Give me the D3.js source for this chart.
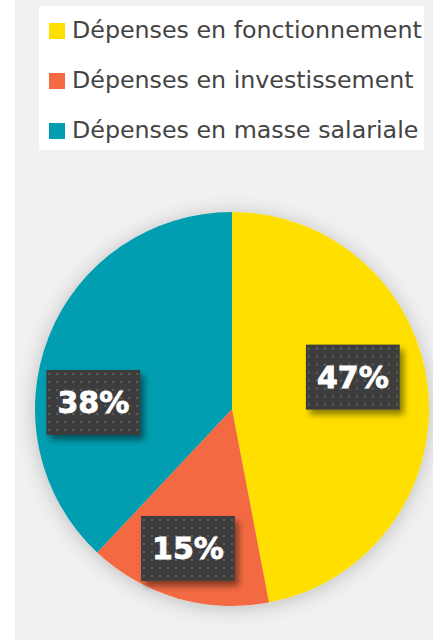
<!DOCTYPE html>
<html>
<head>
<meta charset="utf-8">
<script src="https://cdn.jsdelivr.net/npm/d3@7"></script>
<style>
  body { margin: 0; background: #fff; }
  svg { display: block; }
</style>
</head>
<body>
<div id="chart"></div>
<script>
// data
const categories = ['Dépenses en fonctionnement', 'Dépenses en investissement', 'Dépenses en masse salariale'];
const shares = [47, 15, 38];
const sliceColors = ['#FFDF00', '#F36A43', '#009EB0'];

// label placement tweaks (degrees / fraction of radius)
const labelAngleNudge = [-9.6, 1.4, -18.7];
const labelRadiusK = [0.635, 0.74, 0.705];

const width = 433;
const height = 640;
const cx = 232, cy = 409, radius = 197;

const svg = d3.select('#chart')
  .append('svg')
  .attr('width', width)
  .attr('height', height);

const defs = svg.append('defs');

// soft shadow behind the pie
const pieShadow = defs.append('filter')
  .attr('id', 'pieShadow')
  .attr('x', '-30%').attr('y', '-30%')
  .attr('width', '160%').attr('height', '160%');
pieShadow.append('feDropShadow')
  .attr('dx', 0).attr('dy', 2)
  .attr('stdDeviation', 10)
  .attr('flood-color', '#000')
  .attr('flood-opacity', 0.22);

// harder shadow for the label boxes
const boxShadow = defs.append('filter')
  .attr('id', 'boxShadow')
  .attr('x', '-20%').attr('y', '-20%')
  .attr('width', '150%').attr('height', '160%');
boxShadow.append('feDropShadow')
  .attr('dx', 4).attr('dy', 5)
  .attr('stdDeviation', 3)
  .attr('flood-color', '#000')
  .attr('flood-opacity', 0.45);

// dotted texture of the label boxes
const dots = defs.append('pattern')
  .attr('id', 'dots')
  .attr('patternUnits', 'userSpaceOnUse')
  .attr('width', 8).attr('height', 8);
dots.append('rect').attr('width', 8).attr('height', 8).attr('fill', '#3e3e3e');
dots.append('rect').attr('x', 3).attr('y', 3).attr('width', 2).attr('height', 2).attr('fill', '#5e5e5e');

// gray panel
svg.append('rect')
  .attr('x', 15).attr('y', 0)
  .attr('width', width - 15).attr('height', height)
  .attr('fill', '#f1f1f1');

// legend
const legend = svg.append('g');
legend.append('rect')
  .attr('x', 39).attr('y', 6)
  .attr('width', 385).attr('height', 144)
  .attr('fill', '#fff');

const legendY = d3.scalePoint()
  .domain(categories)
  .range([31, 131]);

const item = legend.selectAll('.item')
  .data(categories)
  .join('g')
  .attr('class', 'item')
  .attr('transform', d => `translate(49, ${legendY(d)})`);

item.append('rect')
  .attr('y', -8)
  .attr('width', 16).attr('height', 16)
  .attr('fill', (d, i) => sliceColors[i]);

const legendText = item.append('text')
  .attr('x', 23)
  .attr('y', 7)
  .attr('font-family', 'DejaVu Sans, sans-serif')
  .attr('font-size', 20)
  .attr('fill', '#444')
  .text(d => d);

// size the legend font so the longest entry fills the box like the original
const longest = d3.max(legendText.nodes(), n => n.getComputedTextLength());
legendText.attr('font-size', 20 * 350 / longest);

// pie
const pie = d3.pie().sort(null).value(d => d);
const arcs = pie(shares);
const arc = d3.arc().innerRadius(0).outerRadius(radius);

const g = svg.append('g')
  .attr('transform', `translate(${cx}, ${cy})`);

g.append('g')
  .attr('filter', 'url(#pieShadow)')
  .selectAll('path')
  .data(arcs)
  .join('path')
  .attr('d', arc)
  .attr('fill', (d, i) => sliceColors[i]);

// labels
const labels = g.selectAll('.lbl')
  .data(arcs)
  .join('g')
  .attr('class', 'lbl')
  .attr('transform', (d, i) => {
    const a = (d.startAngle + d.endAngle) / 2 + labelAngleNudge[i] * Math.PI / 180;
    const r = radius * labelRadiusK[i];
    return `translate(${r * Math.sin(a)}, ${-r * Math.cos(a)})`;
  });

const boxes = labels.append('rect')
  .attr('fill', 'url(#dots)')
  .attr('filter', 'url(#boxShadow)');

const texts = labels.append('text')
  .attr('text-anchor', 'middle')
  .attr('y', 11)
  .attr('font-family', 'DejaVu Sans, sans-serif')
  .attr('font-weight', 'bold')
  .attr('font-size', 30)
  .attr('fill', '#fff')
  .attr('stroke', '#fff')
  .attr('stroke-width', 0.8)
  .text(d => d.data + '%');

texts.each(function(d, i) {
  const w = this.getComputedTextLength();
  d3.select(boxes.nodes()[i])
    .attr('x', -w / 2 - 11)
    .attr('y', -32)
    .attr('width', w + 22)
    .attr('height', 65);
});
</script>
</body>
</html>
